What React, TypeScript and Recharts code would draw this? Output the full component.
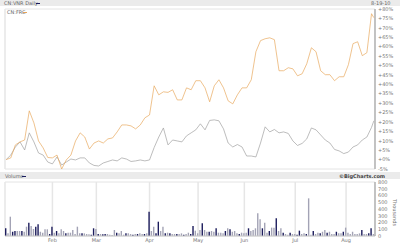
import React from 'react';
import { LineChart, Line, XAxis, YAxis, CartesianGrid, BarChart, Bar, Cell } from 'recharts';

// trading-day index (0 = first day of January shown, 159 = 8-19-10)
const lineDays = [0,2,4,6,8,10,12,14,16,18,20,22,24,26,28,30,32,34,36,38,40,42,44,46,48,50,52,54,56,58,60,62,64,66,68,70,72,74,76,78,80,82,84,86,88,90,92,94,96,98,100,102,104,106,108,110,112,114,116,118,120,122,124,126,128,130,132,134,136,138,140,142,144,146,148,150,152,154,156,158,159];

// CN:FRC % change
const frcPct = [0,0.9,7.8,9.4,10.4,25.9,19.5,9.9,6.2,1.1,0.9,2.4,-5,-0.2,2.4,9.9,14.2,12.0,5.6,8.8,9.9,8.8,11.0,11.5,14.7,18.4,18.4,17.9,16.3,18.4,22.2,23.7,39.2,34.4,36.0,35.7,37.1,31.7,31.7,38.1,37.1,41.9,41.9,38.1,30.7,39.2,42.4,38.1,31.2,29.6,34.4,38.1,38.1,42.4,57.3,63.2,64.2,64.7,63.7,47.2,47.2,48.8,48.2,44.5,45.6,50.9,59.4,57.3,47.2,45.1,45.1,41.9,44.0,44.0,50.4,61.6,62.6,55.2,56.8,77.5,75.4];

// CN:VNR % change
const vnrPct = [0,2.4,6.7,9.4,5.1,14.2,9.4,3.5,2.4,-1.3,-2.3,1.4,-2.9,-1.3,0.3,-0.2,0.9,0.9,-1.8,-3.1,-3.4,-1.8,-1.0,-0.2,-0.7,0.9,0.3,-1.0,-0.7,-0.2,-0.7,-0.2,6.4,12.0,16.8,7.8,10.4,9.9,9.4,12.6,14.2,15.8,19.0,15.8,20.8,21.1,20.6,16.3,8.8,6.7,8.0,6.7,1.9,1.9,1.4,8.8,17.4,14.7,16.0,14.2,14.7,13.9,9.9,7.5,8.6,11.0,16.8,15.8,13.1,10.4,8.8,5.4,4.6,3.2,4.0,6.7,7.8,10.4,12.0,17.1,20.6];

// daily volume, thousands
const volume = [
114,40,286,63,74,74,74,74,63,138,
197,148,104,138,173,63,49,99,99,30,
138,49,74,39,99,74,39,49,49,89,
30,138,39,39,39,30,25,20,114,104,
30,30,25,30,30,20,15,89,49,39,
74,20,39,39,30,20,30,30,39,30,
30,39,360,74,138,39,212,74,138,39,
49,39,30,30,30,30,39,20,30,49,
30,148,79,40,89,188,89,63,63,74,
63,114,49,49,39,74,114,99,63,74,
39,30,49,39,49,114,74,89,114,336,
247,114,197,49,74,124,124,262,74,114,
49,30,20,49,30,30,20,79,30,39,
30,558,20,74,30,49,39,63,89,49,
63,30,30,63,39,39,63,124,49,30,
63,30,30,39,89,30,30,39,114,30];

// 1 = dark (navy) bar, 0 = grey bar
const volDark = [
1,0,0,1,1,0,0,1,0,0,
1,0,0,1,1,0,0,0,0,1,
1,0,1,0,0,0,1,0,0,0,
0,0,0,1,0,0,0,1,1,0,
1,0,1,1,0,0,0,0,1,0,
0,0,1,0,0,1,0,1,0,0,
1,0,1,0,0,1,1,0,0,1,
0,1,0,0,1,0,0,1,0,0,
1,1,0,0,0,1,0,0,1,0,
0,1,0,0,0,1,0,1,0,0,
0,1,0,0,0,1,0,0,0,0,
0,1,0,0,1,0,0,1,0,0,
1,0,0,1,0,0,1,1,0,0,
1,0,0,1,0,0,1,0,0,1,
0,0,0,1,0,0,1,0,0,0,
0,0,0,0,1,0,0,1,1,0];

const monthTicks = [20, 39, 62, 83, 103, 125, 147];
const monthLabels = ['Feb', 'Mar', 'Apr', 'May', 'Jun', 'Jul', 'Aug'];
const pctTicks = [-5,0,5,10,15,20,25,30,35,40,45,50,55,60,65,70,75,80];
const volTicks = [0,100,200,300,400,500,600,700,800];

const lineData = lineDays.map((d, i) => ({ day: d, frc: frcPct[i], vnr: vnrPct[i] }));
const volData = volume.map((v, i) => ({ day: i, vol: v, dark: volDark[i] }));

const FONT = '"DejaVu Sans", Verdana, sans-serif';
const fmtPct = (v: number) => (v >= 0 ? `+${v}%` : `${v}%`);
const fmtMonth = (v: number) => monthLabels[monthTicks.indexOf(v)] ?? '';

const small: React.CSSProperties = { position: 'absolute', fontFamily: FONT, fontSize: 5, color: '#666', lineHeight: '6px', whiteSpace: 'nowrap' };

export default function App() {
  return (
    <div style={{ position: 'absolute', left: 0, top: 0, width: 400, height: 243, background: '#fff', overflow: 'hidden' }}>
      {/* top header band */}
      <div style={{ position: 'absolute', left: 0, top: 0, width: 400, height: 6, background: '#ebebeb' }} />
      <div style={{ ...small, left: 4, top: 0 }}>CN:VNR Daily</div>
      <div style={{ position: 'absolute', left: 36, top: 2.5, width: 4, height: 1, background: '#1c1c5c' }} />
      <div style={{ ...small, left: 371, top: 0 }}>8-19-10</div>

      <div style={{ position: 'absolute', left: 0, top: 0 }}>
        <LineChart width={400} height={172} data={lineData} margin={{ top: 9, right: 0, bottom: 3, left: 5 }}>
          <CartesianGrid horizontal vertical={false} stroke="#e4e4e4" strokeWidth={1} />
          <CartesianGrid horizontal={false} vertical stroke="#e6e6e6" strokeWidth={1.5} />
          <XAxis dataKey="day" type="number" domain={[-0.5, 159.5]} ticks={monthTicks} tick={false} tickLine={false} axisLine={{ stroke: '#d0d0d0' }} height={0} />
          <YAxis yAxisId="r" orientation="right" width={25} domain={[-5, 80]} ticks={pctTicks} interval={0}
            tickFormatter={fmtPct} tick={{ fontSize: 5, fill: '#777', fontFamily: FONT }} tickLine={false} tickSize={0} tickMargin={3}
            axisLine={{ stroke: '#999' }} />
          <YAxis yAxisId="l" orientation="left" width={0} domain={[-5, 80]} tick={false} tickLine={false} axisLine={{ stroke: '#d8d8d8' }} />
          <Line yAxisId="r" dataKey="vnr" stroke="#a0a0a0" strokeWidth={0.7} dot={false} isAnimationActive={false} />
          <Line yAxisId="r" dataKey="frc" stroke="#e8a95f" strokeWidth={0.7} dot={false} isAnimationActive={false} />
        </LineChart>
      </div>
      {/* inner legend */}
      <div style={{ ...small, left: 7, top: 9 }}>CN:FRC</div>
      <div style={{ position: 'absolute', left: 23, top: 11.5, width: 4, height: 1, background: '#e6a35a' }} />

      {/* volume header band */}
      <div style={{ position: 'absolute', left: 0, top: 172, width: 400, height: 7, background: '#ebebeb' }} />
      <div style={{ ...small, left: 5, top: 173 }}>Volume</div>
      <div style={{ position: 'absolute', left: 22, top: 175.5, width: 4, height: 1, background: '#1c1c5c' }} />
      <div style={{ ...small, left: 339, top: 173, fontWeight: 'bold', color: '#444' }}>©BigCharts.com</div>

      <div style={{ position: 'absolute', left: 0, top: 179 }}>
        <BarChart width={400} height={64} data={volData} margin={{ top: 3, right: 0, bottom: 0, left: 5 }}>
          <CartesianGrid horizontal vertical={false} stroke="#e4e4e4" strokeWidth={1} />
          <CartesianGrid horizontal={false} vertical stroke="#e6e6e6" strokeWidth={1.5} />
          <XAxis dataKey="day" type="number" domain={[-0.5, 159.5]} ticks={monthTicks} interval={0} tickFormatter={fmtMonth}
            tick={{ fontSize: 5, fill: '#777', fontFamily: FONT }} tickLine={false} tickSize={0} tickMargin={2} height={7} axisLine={{ stroke: '#ccc' }} />
          <YAxis yAxisId="r" orientation="right" width={25} domain={[0, 800]} ticks={volTicks} interval={0}
            tick={{ fontSize: 5, fill: '#777', fontFamily: FONT }} tickLine={false} tickSize={0} tickMargin={3} axisLine={{ stroke: '#999' }} />
          <YAxis yAxisId="l" orientation="left" width={0} domain={[0, 800]} tick={false} tickLine={false} axisLine={{ stroke: '#d8d8d8' }} />
          <Bar yAxisId="r" dataKey="vol" barSize={1.4} isAnimationActive={false}>
            {volData.map((d, i) => (
              <Cell key={i} fill={d.dark ? '#1c1c5c' : '#a3a3b5'} />
            ))}
          </Bar>
        </BarChart>
      </div>
      <div style={{ ...small, left: 398, top: 199, transform: 'rotate(90deg)', transformOrigin: 'left top', color: '#777' }}>Thousands</div>
    </div>
  );
}
